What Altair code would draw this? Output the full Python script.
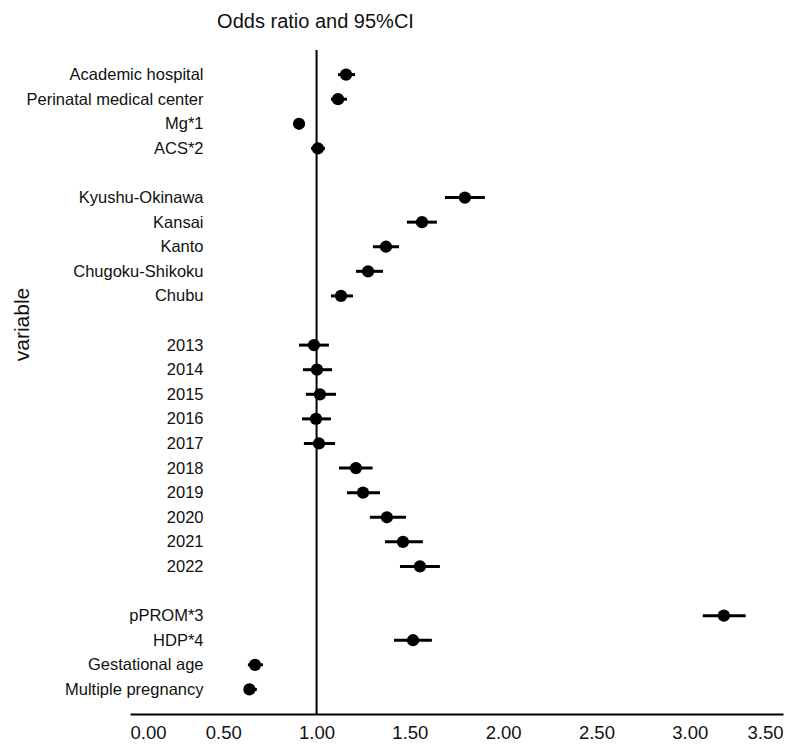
import altair as alt
import pandas as pd

# Row order (blank strings are the spacer rows between groups)
categories = [
    "Academic hospital", "Perinatal medical center", "Mg*1", "ACS*2", " ",
    "Kyushu-Okinawa", "Kansai", "Kanto", "Chugoku-Shikoku", "Chubu", "  ",
    "2013", "2014", "2015", "2016", "2017", "2018", "2019", "2020", "2021", "2022", "   ",
    "pPROM*3", "HDP*4", "Gestational age", "Multiple pregnancy",
]

variables = [
    "Academic hospital", "Perinatal medical center", "Mg*1", "ACS*2",
    "Kyushu-Okinawa", "Kansai", "Kanto", "Chugoku-Shikoku", "Chubu",
    "2013", "2014", "2015", "2016", "2017", "2018", "2019", "2020", "2021", "2022",
    "pPROM*3", "HDP*4", "Gestational age", "Multiple pregnancy",
]
odds_ratio = [1.158, 1.115, 0.906, 1.007,
              1.795, 1.565, 1.372, 1.276, 1.131,
              0.986, 1.002, 1.018, 0.997, 1.013, 1.211, 1.249, 1.377, 1.463, 1.554,
              3.183, 1.517, 0.670, 0.640]
ci_low = [1.115, 1.077, 0.880, 0.970,
          1.688, 1.484, 1.302, 1.211, 1.077,
          0.906, 0.927, 0.943, 0.922, 0.932, 1.120, 1.163, 1.286, 1.367, 1.447,
          3.070, 1.415, 0.632, 0.617]
ci_high = [1.206, 1.163, 0.930, 1.045,
           1.902, 1.645, 1.442, 1.356, 1.195,
           1.066, 1.083, 1.104, 1.077, 1.099, 1.300, 1.340, 1.479, 1.570, 1.661,
           3.300, 1.618, 0.713, 0.680]

x_ticks = [0.0, 0.5, 1.0, 1.5, 2.0, 2.5, 3.0, 3.5]

df = pd.DataFrame({"variable": variables, "or": odds_ratio,
                   "lo": ci_low, "hi": ci_high})

FONT = "Liberation Sans"

x_scale = alt.Scale(domain=[0, 3.5], nice=False, zero=False)
y_enc = alt.Y(
    "variable:N",
    scale=alt.Scale(domain=categories, type="point", padding=1),
    sort=categories,
    axis=alt.Axis(
        title="variable", domain=False, ticks=False, grid=False,
        labelPadding=0, offset=-73, labelFont=FONT, labelFontSize=16.5,
        labelColor="#111", titleFont=FONT, titleFontSize=21,
        titleFontWeight="normal", titleColor="#111",
        titleX=-175, titleY=274, titleBaseline="alphabetic",
    ),
)

x_axis = alt.Axis(
    title=None, values=x_ticks, format=".2f", grid=False, ticks=False,
    domainColor="black", domainWidth=2, labelFont=FONT, labelFontSize=18.5,
    labelColor="#111", labelPadding=9,
)

ref = alt.Chart(pd.DataFrame({"v": [1.0]})).mark_rule(
    color="black", strokeWidth=2
).encode(x=alt.X("v:Q", scale=x_scale, axis=x_axis))

ci = alt.Chart(df).mark_rule(color="black", strokeWidth=3).encode(
    x=alt.X("lo:Q", scale=x_scale, axis=x_axis),
    x2="hi:Q",
    y=y_enc,
)

pts = alt.Chart(df).mark_point(
    filled=True, color="black", size=150, opacity=1
).encode(
    x=alt.X("or:Q", scale=x_scale, axis=x_axis),
    y=y_enc,
)

chart = alt.layer(ref, ci, pts).properties(
    width=653, height=664,
    title=alt.TitleParams(
        "Odds ratio and 95%CI", anchor="middle", frame="group", dx=-141,
        font=FONT, fontSize=20, fontWeight="normal", color="#111",
        baseline="alphabetic", offset=1,
    ),
    autosize=alt.AutoSizeParams(type="none"),
    padding={"left": 130, "top": 50, "right": 20, "bottom": 30},
    background="white",
).configure_view(stroke=None)

chart.save("out.html", embed_options={"renderer": "svg", "actions": False})
